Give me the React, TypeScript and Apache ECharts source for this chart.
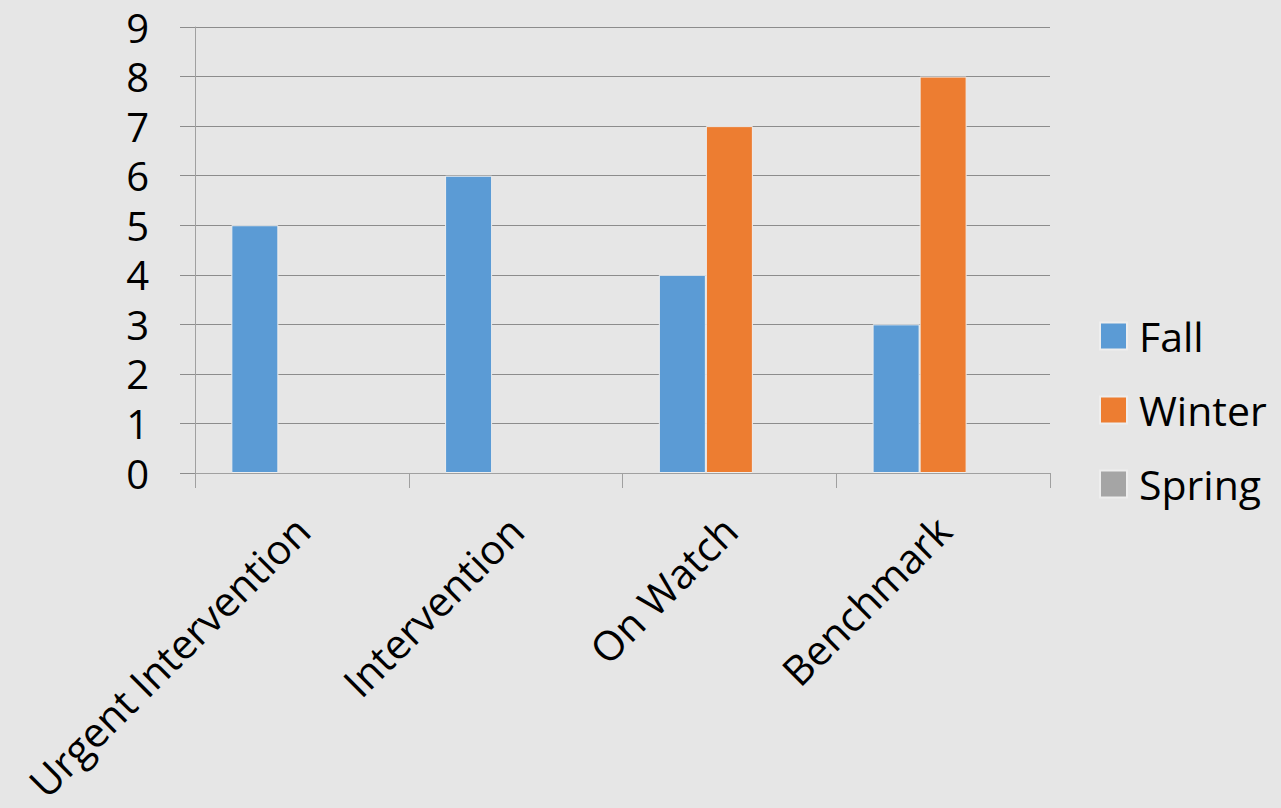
import React, { useEffect, useRef } from "react";
import * as echarts from "echarts";

const categories = ["Urgent Intervention", "Intervention", "On Watch", "Benchmark"];
const fallValues = [5, 6, 4, 3];
const winterValues = [null, null, 7, 8];
const springValues = [null, null, null, null];
const seriesNames = ["Fall", "Winter", "Spring"];
const seriesColors = ["#5b9bd5", "#ed7d31", "#a5a5a5"];

const FONT = "'Open Sans', Lato, sans-serif";

export default function App() {
  const ref = useRef<HTMLDivElement>(null);
  useEffect(() => {
    if (!ref.current) return;
    const chart = echarts.init(ref.current, undefined, { renderer: "svg" });
    const values = [fallValues, winterValues, springValues];
    chart.setOption({
      animation: false,
      backgroundColor: "#e6e6e6",
      textStyle: { fontFamily: FONT },
      grid: { left: 195, right: 231, top: 27, bottom: 335, containLabel: false },
      legend: {
        orient: "vertical",
        left: 1099,
        top: 315,
        padding: 0,
        itemWidth: 27,
        itemHeight: 27,
        itemGap: 32,
        icon: "rect",
        data: seriesNames,
        textStyle: { fontSize: 41, lineHeight: 42, color: "#000", fontFamily: FONT, padding: [0, 0, 0, 7] },
      },
      xAxis: {
        type: "category",
        data: categories,
        axisLine: { show: true, lineStyle: { color: "#a0a0a0", width: 1 } },
        axisTick: { show: true, length: 15, alignWithLabel: false, lineStyle: { color: "#a0a0a0" } },
        axisLabel: { rotate: 45, fontSize: 41, lineHeight: 40, color: "#000", margin: 50, fontFamily: FONT, interval: 0 },
        splitLine: { show: false },
      },
      yAxis: {
        type: "value",
        min: 0,
        max: 9,
        interval: 1,
        axisLine: { show: true, lineStyle: { color: "#a0a0a0", width: 1 } },
        axisTick: { show: true, length: 15, lineStyle: { color: "#8c8c8c" } },
        axisLabel: { fontSize: 40, lineHeight: 40, color: "#000", margin: 46, fontFamily: FONT },
        splitLine: { show: true, lineStyle: { color: "#8c8c8c", width: 1 } },
      },
      series: seriesNames.map((name, i) => ({
        name,
        type: "bar",
        data: values[i],
        barGap: "0%",
        barCategoryGap: "34%",
        itemStyle: { color: seriesColors[i], borderColor: "#eeeeee", borderWidth: 1 },
      })),
    });
    return () => chart.dispose();
  }, []);
  return (
    <div
      ref={ref}
      style={{ position: "fixed", left: 0, top: 0, width: 1281, height: 808 }}
    />
  );
}
